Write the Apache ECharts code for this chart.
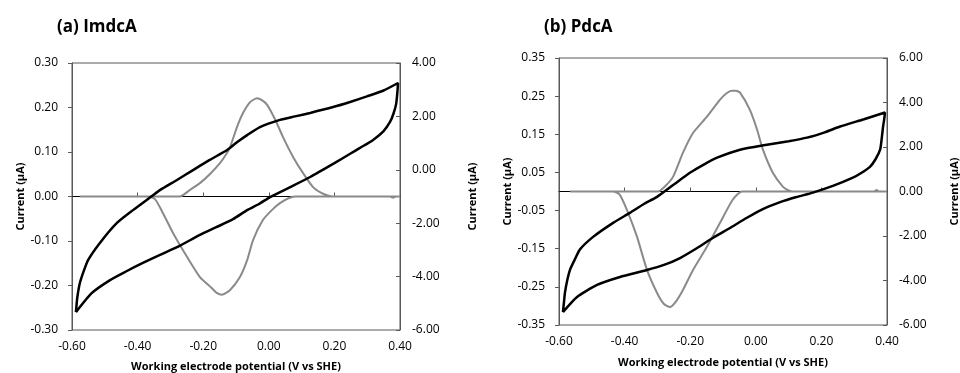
<!DOCTYPE html>
<html>
<head>
<meta charset="utf-8">
<script src="https://cdn.jsdelivr.net/npm/echarts@6/dist/echarts.min.js"></script>
<style>
html, body { margin: 0; padding: 0; background: #fff; }
#chart { width: 960px; height: 373px; }
</style>
</head>
<body>
<div id="chart"></div>
<script>
// (a) ImdcA - raw CV (right axis, uA) and baseline-subtracted peaks (left axis, uA)
var aRaw = [[-0.588,-5.33],[-0.584,-4.80],[-0.576,-4.24],[-0.563,-3.75],[-0.551,-3.38],[-0.515,-2.74],
  [-0.463,-1.99],[-0.414,-1.51],[-0.356,-0.98],[-0.332,-0.76],[-0.280,-0.38],[-0.231,-0.01],[-0.180,0.37],
  [-0.127,0.74],[-0.095,1.05],[-0.066,1.30],[-0.027,1.60],[0.034,1.87],[0.080,2.00],[0.126,2.13],
  [0.196,2.35],[0.250,2.55],[0.299,2.75],[0.350,2.97],[0.394,3.25],
  [0.392,2.90],[0.388,2.45],[0.380,2.10],[0.370,1.80],[0.350,1.45],[0.318,1.12],[0.278,0.82],[0.248,0.60],
  [0.200,0.25],[0.126,-0.27],[0.070,-0.62],[0.004,-1.02],[-0.030,-1.28],[-0.066,-1.51],[-0.109,-1.85],
  [-0.160,-2.15],[-0.210,-2.44],[-0.280,-2.90],[-0.330,-3.18],[-0.384,-3.49],[-0.434,-3.80],[-0.484,-4.13],
  [-0.540,-4.62],[-0.588,-5.33]];
var aPeak = [[-0.576,0],[-0.271,0],[-0.240,0.015],[-0.210,0.030],[-0.180,0.050],[-0.149,0.075],[-0.130,0.095],
  [-0.118,0.111],[-0.097,0.156],[-0.079,0.187],[-0.057,0.212],[-0.036,0.221],[-0.020,0.216],[-0.005,0.206],
  [0.020,0.172],[0.043,0.134],[0.074,0.089],[0.104,0.053],[0.135,0.021],[0.160,0.008],[0.177,0.003],
  [0.196,0],[0.370,0],[0.378,-0.003],[0.388,0],[0.400,0],
  [0.080,0],[0.060,-0.004],[0.034,-0.015],[0.010,-0.030],[-0.018,-0.053],[-0.048,-0.098],[-0.066,-0.143],
  [-0.088,-0.181],[-0.118,-0.210],[-0.143,-0.221],[-0.160,-0.216],[-0.175,-0.205],[-0.210,-0.181],
  [-0.249,-0.136],[-0.292,-0.082],[-0.323,-0.037],[-0.347,-0.006],[-0.371,0],[-0.576,0]];

// (b) PdcA
var bRaw = [[-0.588,-5.42],[-0.585,-5.00],[-0.582,-4.56],[-0.575,-4.00],[-0.566,-3.50],[-0.550,-3.00],
  [-0.536,-2.60],[-0.496,-2.04],[-0.435,-1.41],[-0.384,-0.96],[-0.340,-0.55],[-0.301,-0.24],[-0.252,0.29],
  [-0.201,0.84],[-0.160,1.20],[-0.118,1.52],[-0.048,1.88],[0.034,2.10],[0.100,2.26],[0.156,2.42],
  [0.210,2.66],[0.257,2.92],[0.330,3.25],[0.394,3.55],
  [0.391,3.20],[0.388,2.91],[0.384,2.40],[0.379,1.88],[0.365,1.45],[0.348,1.11],[0.320,0.82],[0.296,0.62],
  [0.235,0.25],[0.174,-0.05],[0.124,-0.25],[0.074,-0.48],[0.020,-0.80],[-0.027,-1.18],[-0.080,-1.65],
  [-0.130,-2.08],[-0.180,-2.55],[-0.231,-2.99],[-0.280,-3.30],[-0.332,-3.53],[-0.414,-3.84],[-0.484,-4.20],
  [-0.545,-4.74],[-0.588,-5.42]];
var bPeak = [[-0.566,0],[-0.298,0],[-0.275,0.015],[-0.252,0.039],[-0.222,0.102],[-0.191,0.154],[-0.149,0.196],
  [-0.109,0.241],[-0.090,0.257],[-0.073,0.264],[-0.060,0.264],[-0.048,0.259],[-0.018,0.214],[0.004,0.162],
  [0.022,0.109],[0.052,0.049],[0.083,0.012],[0.100,0.003],[0.113,0],[0.360,0],
  [0.368,0.004],[0.376,0],[0.400,0],
  [-0.042,0],[-0.070,-0.021],[-0.109,-0.082],[-0.149,-0.145],[-0.191,-0.205],[-0.222,-0.258],
  [-0.245,-0.290],[-0.262,-0.303],[-0.280,-0.295],[-0.301,-0.266],[-0.332,-0.205],[-0.362,-0.119],
  [-0.393,-0.048],[-0.415,-0.008],[-0.435,0],[-0.566,0]];

var titles = ['(a) ImdcA', '(b) PdcA'];
var xName = 'Working electrode potential (V vs SHE)';
var yName = 'Current (\u03bcA)';

var font = 'Open Sans';
var axisCol = '#595959';
var fmt = function (v) { return v.toFixed(2); };

function xAxes(grid, nameGap) {
  return [{
    type: 'value', gridIndex: grid, min: -0.6, max: 0.4, interval: 0.2, position: 'bottom',
    name: xName, nameLocation: 'middle', nameGap: nameGap,
    nameTextStyle: { fontFamily: font, fontSize: 11, fontWeight: 'bold', color: '#000' },
    axisLine: { show: false }, axisTick: { show: false }, splitLine: { show: false },
    axisLabel: { formatter: fmt, fontFamily: font, fontSize: 12, color: '#000', margin: 11 }
  }, {
    type: 'value', gridIndex: grid, min: -0.6, max: 0.4, interval: 0.2, position: 'top',
    axisLine: { onZero: true, onZeroAxisIndex: grid * 2, lineStyle: { color: '#000', width: 1 } },
    axisTick: { show: true, length: 4, lineStyle: { color: axisCol } },
    axisLabel: { show: false }, splitLine: { show: false }
  }];
}

function yAxes(grid, lmin, lmax, lint, rmin, rmax, rint, lgap, rgap) {
  return [{
    type: 'value', gridIndex: grid, position: 'left', min: lmin, max: lmax, interval: lint,
    name: yName, nameLocation: 'middle', nameRotate: 90, nameGap: lgap,
    nameTextStyle: { fontFamily: font, fontSize: 11, fontWeight: 'bold', color: '#000' },
    axisLine: { show: true, onZero: false, lineStyle: { color: axisCol } },
    axisTick: { show: true, length: 4, lineStyle: { color: axisCol } },
    axisLabel: { formatter: fmt, fontFamily: font, fontSize: 12, color: '#000', margin: 14 },
    splitLine: { show: false }
  }, {
    type: 'value', gridIndex: grid, position: 'right', min: rmin, max: rmax, interval: rint,
    name: yName, nameLocation: 'middle', nameRotate: 90, nameGap: rgap,
    nameTextStyle: { fontFamily: font, fontSize: 11, fontWeight: 'bold', color: '#000' },
    axisLine: { show: true, onZero: false, lineStyle: { color: axisCol } },
    axisTick: { show: true, inside: true, length: 4, lineStyle: { color: axisCol } },
    axisLabel: { formatter: fmt, fontFamily: font, fontSize: 12, color: '#000', margin: 12 },
    splitLine: { show: false }
  }];
}

function line(data, x, y, color, w) {
  return {
    type: 'line', data: data, xAxisIndex: x, yAxisIndex: y, showSymbol: false, symbol: 'none',
    smooth: 0.2, lineStyle: { color: color, width: w }, animation: false, z: 3
  };
}

var chart = echarts.init(document.getElementById('chart'));
chart.setOption({
  backgroundColor: '#fff',
  animation: false,
  title: [
    { text: titles[0], left: 52, top: 14, textStyle: { fontFamily: font, fontSize: 17, fontWeight: 'bold', color: '#000' } },
    { text: titles[1], left: 539, top: 14, textStyle: { fontFamily: font, fontSize: 17, fontWeight: 'bold', color: '#000' } }
  ],
  grid: [
    { left: 72, right: 560, top: 63, bottom: 43, outerBoundsMode: 'none', containLabel: false,
      show: true, borderColor: axisCol, borderWidth: 1, backgroundColor: 'transparent' },
    { left: 559, right: 73, top: 58, bottom: 48, outerBoundsMode: 'none', containLabel: false,
      show: true, borderColor: axisCol, borderWidth: 1, backgroundColor: 'transparent' }
  ],
  xAxis: xAxes(0, 31).concat(xAxes(1, 32)),
  yAxis: yAxes(0, -0.3, 0.3, 0.1, -6, 4, 2, 46, 67).concat(yAxes(1, -0.35, 0.35, 0.1, -6, 6, 2, 45, 62)),
  series: [
    line(aPeak, 0, 0, '#8a8a8a', 2),
    line(aRaw, 0, 1, '#000', 2.5),
    line(bPeak, 2, 2, '#8a8a8a', 2),
    line(bRaw, 2, 3, '#000', 2.5)
  ]
});
</script>
</body>
</html>
